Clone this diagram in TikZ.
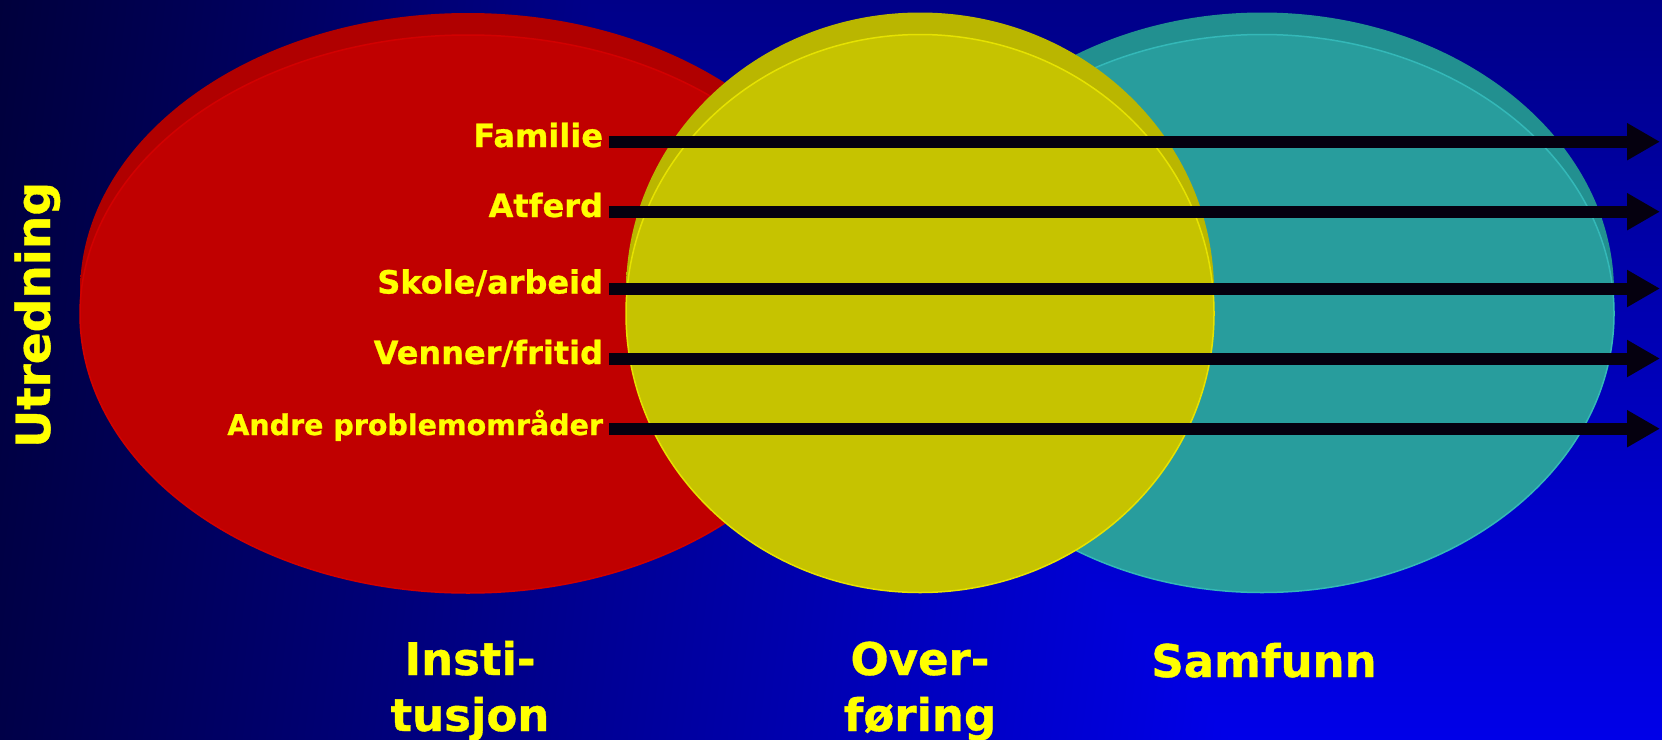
\documentclass[tikz,border=0pt]{standalone}
\usepackage{fontspec}
\setmainfont{DejaVu Sans}[BoldFeatures={FakeBold=0.8}]
\usetikzlibrary{arrows.meta}
\definecolor{redside}{HTML}{B00000}
\definecolor{redmid}{HTML}{940000}
\definecolor{redbody}{HTML}{C00000}
\definecolor{rededge}{HTML}{D20000}
\definecolor{yelside}{HTML}{BAB600}
\definecolor{yelmid}{HTML}{9C9800}
\definecolor{yelbody}{HTML}{C6C300}
\definecolor{yeledge}{HTML}{E6E200}
\definecolor{tealside}{HTML}{229090}
\definecolor{tealmid}{HTML}{1C7B7B}
\definecolor{tealbody}{HTML}{289D9D}
\definecolor{tealedge}{HTML}{34B8B8}
\definecolor{arrowc}{HTML}{05000F}
\definecolor{labyellow}{HTML}{FFFF00}
\pgfdeclarefunctionalshading{bgshade}{\pgfpoint{0bp}{0bp}}{\pgfpoint{100bp}{100bp}}{}{
25 sub 50 div exch 25 sub 50 div exch
dup 96 mul 232 exch sub
3 1 roll
12 mul 72 exch sub exch 216 mul add
2 copy gt {exch} if pop
255 div 0 0 3 -1 roll
}
\tikzset{
  lab/.style={text=labyellow, font=\bfseries\fontsize{32}{38}\selectfont, inner sep=0pt, outer sep=0pt, anchor=base east},
  labsmall/.style={lab, font=\bfseries\fontsize{28.5}{34}\selectfont},
  big/.style={text=labyellow, font=\bfseries\fontsize{45}{56}\selectfont, inner sep=0pt, outer sep=0pt, align=center, anchor=base},
  arr/.style={draw=arrowc, line width=12pt, shorten <=6pt, -{Triangle[length=33pt,width=35pt]}},
}
\begin{document}
\begin{tikzpicture}[x=1pt,y=-1pt]
\useasboundingbox (0,0) rectangle (1662,739);
\shade[shading=bgshade] (0,0) rectangle (1662,739);
% red
\shade[left color=redside, middle color=redmid, right color=redside] (468,292) ellipse [x radius=388, y radius=279];
\fill[redbody, draw=rededge, line width=1.5pt] (468,314) ellipse [x radius=388, y radius=279];
% teal
\shade[left color=tealside, middle color=tealmid, right color=tealside] (1262,291.5) ellipse [x radius=352, y radius=279];
\fill[tealbody, draw=tealedge, line width=1.5pt] (1262,313.5) ellipse [x radius=352, y radius=279];
% yellow
\shade[left color=yelside, middle color=yelmid, right color=yelside] (920,291.5) ellipse [x radius=294, y radius=279];
\fill[yelbody, draw=yeledge, line width=1.5pt] (920,313.5) ellipse [x radius=294, y radius=279];
% labels and arrows
\node[lab] (l1) at (603,147) {Familie};
\node[lab] (l2) at (603,217) {Atferd};
\node[lab] (l3) at (603,293.5) {Skole/arbeid};
\node[lab] (l4) at (603,364) {Venner/fritid};
\node[labsmall] (l5) at (603,435) {Andre problemområder};
\coordinate (e1) at (1660,141.7);
\coordinate (e2) at (1660,211.7);
\coordinate (e3) at (1660,288.5);
\coordinate (e4) at (1660,358.5);
\coordinate (e5) at (1660,428.7);
\draw[arr] (l1.east |- e1) -- (e1);
\draw[arr] (l2.east |- e2) -- (e2);
\draw[arr] (l3.east |- e3) -- (e3);
\draw[arr] (l4.east |- e4) -- (e4);
\draw[arr] (l5.east |- e5) -- (e5);
% bottom labels
\node[big] (inst) at (470,731) {Insti-\\tusjon};
\node[big] (over) at (920,731) {Over-\\føring};
\node[big] (samf) at (1264,677) {Samfunn};
\node[big, font=\bfseries\fontsize{47}{56}\selectfont, rotate=90] (utr) at (50,315) {Utredning};
\end{tikzpicture}
\end{document}
